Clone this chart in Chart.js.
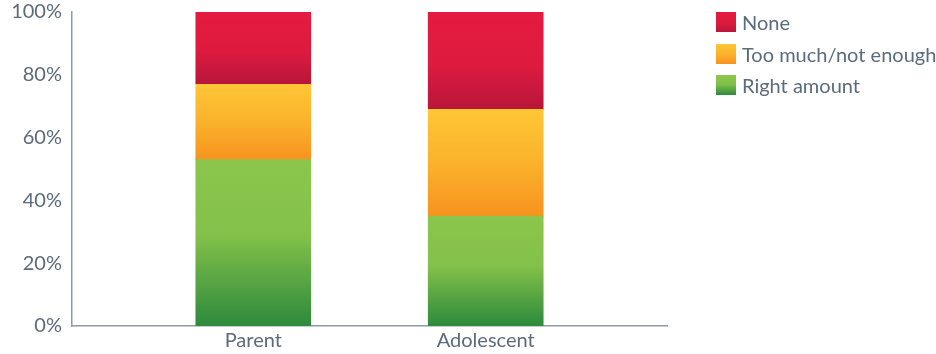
<!DOCTYPE html>
<html>
<head>
<meta charset="utf-8">
<script src="https://cdn.jsdelivr.net/npm/chart.js@4"></script>
<style>
  html, body { margin: 0; padding: 0; background: #fff; }
  #wrap { position: relative; width: 936px; height: 354px; overflow: hidden; }
  #legend { position: absolute; left: 716px; top: 12px; font-family: Lato, sans-serif; font-size: 20px; color: #5b6b7b; }
  #legend div { height: 20px; line-height: 20px; margin-bottom: 11.5px; white-space: nowrap; }
  #legend span { display: inline-block; width: 20px; height: 20px; vertical-align: top; margin-right: 6px; }
</style>
</head>
<body>
<div id="wrap">
  <canvas id="myChart" width="936" height="354"></canvas>
  <div id="legend"></div>
</div>
<script>
// data kategori dan nilai (persen)
const categories = ['Parent', 'Adolescent'];
const rightAmount = [53, 35];
const tooMuch = [24, 34];
const none = [23, 31];
const yTicks = [0, 20, 40, 60, 80, 100];

const seriesNames = ['Right amount', 'Too much/not enough', 'None'];
const seriesData = [rightAmount, tooMuch, none];
// warna gradasi tiap segmen (atas -> bawah)
const stops = [
    [[0, '#8bc64b'], [0.45, '#84c14a'], [1, '#2d8a3c']],
    [[0, '#fec636'], [0.5, '#fab22b'], [1, '#f7931e']],
    [[0, '#e51a40'], [0.55, '#dd1b3f'], [1, '#b7163a']]
];

function segFill(ctx, s) {
    const chart = ctx.chart;
    const y = chart.scales.y;
    if (!chart.chartArea || !y) return stops[s][0][1];
    let bottom = 0;
    for (let k = 0; k < s; k++) bottom += seriesData[k][ctx.dataIndex];
    const top = bottom + seriesData[s][ctx.dataIndex];
    const g = chart.ctx.createLinearGradient(0, y.getPixelForValue(top), 0, y.getPixelForValue(bottom));
    stops[s].forEach(st => g.addColorStop(st[0], st[1]));
    return g;
}

const axisColor = '#8e9aa7';
const tickFont = { family: 'Lato, sans-serif', size: 20 };

const ctx = document.getElementById('myChart').getContext('2d');
const myChart = new Chart(ctx, {
    type: 'bar',
    data: {
        datasets: seriesData.map((arr, s) => ({
            label: seriesNames[s],
            data: arr.map((v, i) => ({ x: i + 1, y: v })),
            backgroundColor: c => segFill(c, s),
            borderWidth: 0,
            barThickness: 115
        }))
    },
    options: {
        responsive: false,
        animation: false,
        layout: { padding: { top: 12, right: 269, left: 0, bottom: 0 } },
        plugins: { legend: { display: false }, tooltip: { enabled: false } },
        scales: {
            x: {
                type: 'linear',
                stacked: true,
                bounds: 'data',
                offset: false,
                min: 0.22,
                max: 2.78,
                afterBuildTicks: sc => { sc.ticks = categories.map((c, i) => ({ value: i + 1 })); },
                afterFit: sc => { sc.height = 28; sc.paddingLeft = 0; sc.paddingRight = 0; },
                grid: { display: false, drawTicks: false },
                border: { display: true, color: axisColor, width: 1.5 },
                ticks: {
                    padding: 3,
                    color: '#5b6b7b',
                    font: tickFont,
                    callback: v => categories[v - 1]
                }
            },
            y: {
                stacked: true,
                min: 0,
                max: 100,
                afterBuildTicks: sc => { sc.ticks = yTicks.map(v => ({ value: v })); },
                afterFit: sc => { sc.width = 72; sc.paddingTop = 0; sc.paddingBottom = 0; },
                grid: { display: false, drawTicks: false },
                border: { display: true, color: axisColor, width: 1.5 },
                ticks: {
                    padding: 10,
                    color: '#5b6b7b',
                    font: tickFont,
                    callback: v => v + '%'
                }
            }
        }
    }
});

// legenda HTML (urutan atas: None)
const legend = document.getElementById('legend');
[2, 1, 0].forEach(s => {
    const row = document.createElement('div');
    const grad = 'linear-gradient(' + stops[s].map(st => st[1] + ' ' + (st[0] * 100) + '%').join(',') + ')';
    row.innerHTML = '<span style="background:' + grad + '"></span>' + seriesNames[s];
    legend.appendChild(row);
});
</script>
</body>
</html>
